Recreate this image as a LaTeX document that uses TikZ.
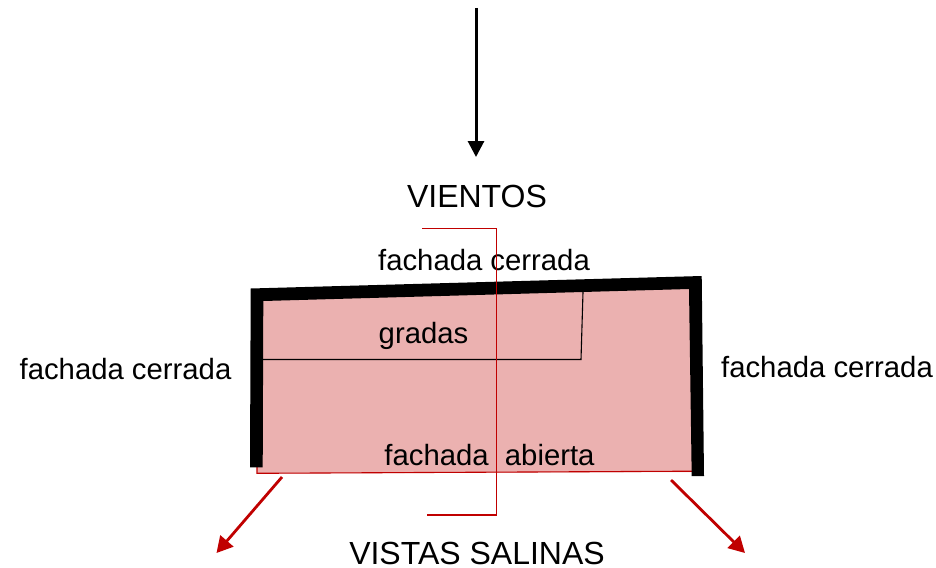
\documentclass[tikz,border=0pt]{standalone}
\usepackage{fontspec}
\setmainfont{Liberation Sans}
\usetikzlibrary{arrows.meta}
\definecolor{roomfill}{HTML}{EBB1B0}
\definecolor{redline}{HTML}{C00000}
\tikzset{
  lbl/.style={inner sep=0pt,anchor=base,text=black,font=\fontsize{29.3}{32}\selectfont},
  biglbl/.style={inner sep=0pt,anchor=base,text=black,font=\fontsize{32}{36}\selectfont},
  wall/.style={fill=black,draw=none},
  thinblack/.style={draw=black,line width=1.1pt},
  thinred/.style={draw=redline,line width=1.1pt},
  redarrow/.style={draw=redline,line width=2.8pt,-{Triangle[length=16pt,width=17pt]}},
  blackarrow/.style={draw=black,line width=3pt,-{Triangle[length=16pt,width=16pt]}}
}
\begin{document}
\begin{tikzpicture}[x=1pt,y=-1pt]
\useasboundingbox (0,0) rectangle (936,567);
% room floor
\fill[roomfill] (257,300) -- (695,285) -- (695,472) -- (257,473.5) -- cycle;
\draw[thinred] (257,467) -- (257,473.3) -- (692,471.2);
% stands
\draw[thinblack] (263,359.5) -- (581,359.5) -- (583,292);
% walls
\fill[wall] (250.7,288.5) -- (701.7,276) -- (704,476) -- (691.7,476) -- (689,289) -- (263.3,301) -- (262.7,467.3) -- (250,467.3) -- cycle;
% labels
\node[lbl] (top) at (484,270) {fachada cerrada};
\node[lbl] (left) at (125.5,379) {fachada cerrada};
\node[lbl] (right) at (827,377) {fachada cerrada};
\node[lbl] (stands) at (423.5,343) {gradas};
\node[lbl] (open) at (489.5,465) {fachada\ \ abierta};
\node[biglbl] (winds) at (477,207) {VIENTOS};
\node[biglbl] (views) at (477,564) {VISTAS SALINAS};
% section line
\coordinate (s1) at (422,228.8);
\coordinate (s2) at (496.8,228.8);
\coordinate (s3) at (496.8,515);
\coordinate (s4) at (427,515);
\draw[thinred] (s1) -- (s2) -- (s3) -- (s4);
% arrows
\coordinate (w1) at (476,8);
\coordinate (w2) at (476,157);
\draw[blackarrow] (w1) -- (w2);
\coordinate (a1) at (282,477);
\coordinate (a2) at (216.5,553);
\draw[redarrow] (a1) -- (a2);
\coordinate (b1) at (671,480);
\coordinate (b2) at (745,553);
\draw[redarrow] (b1) -- (b2);
\end{tikzpicture}
\end{document}
